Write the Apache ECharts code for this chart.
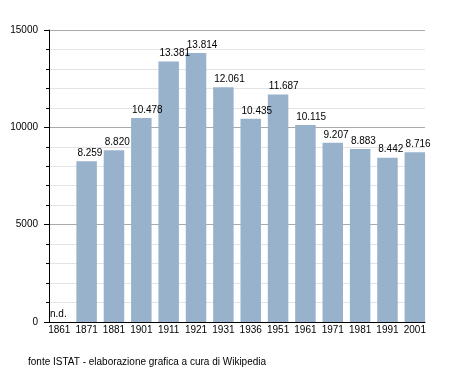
<!DOCTYPE html>
<html><head><meta charset="utf-8">
<script src="https://cdn.jsdelivr.net/npm/echarts@6/dist/echarts.min.js"></script>
<style>html,body{margin:0;padding:0;background:#fff}#c{width:453px;height:371px}</style>
</head><body><div id="c"></div>
<script>
const years = ['1861','1871','1881','1901','1911','1921','1931','1936','1951','1961','1971','1981','1991','2001'];
const population = [null,8259,8820,10478,13381,13814,12061,10435,11687,10115,9207,8883,8442,8716];
const yTicks = [0,5000,10000,15000];
const sourceNote = 'fonte ISTAT - elaborazione grafica a cura di Wikipedia';

function fmt(v){ return String(v).replace(/\B(?=(\d{3})+(?!\d))/g,'.'); }
const FONT = 'Liberation Sans';
const YMIN = yTicks[0], YMAX = yTicks[yTicks.length-1];
const chart = echarts.init(document.getElementById('c'), null, {renderer:'canvas'});
chart.setOption({
  animation:false,
  backgroundColor:'#fff',
  textStyle:{fontFamily:FONT},
  grid:[
    {left:45.6,right:24.5,top:30,bottom:49,containLabel:false},
    {left:49,right:28,top:30,bottom:49,containLabel:false}
  ],
  xAxis:[{
    gridIndex:0, type:'category', data:years,
    axisLine:{show:false},
    axisTick:{show:false},
    axisLabel:{color:'#000',fontSize:10,fontFamily:FONT,margin:3,interval:0}
  },{
    gridIndex:1, type:'category', data:years,
    axisLine:{show:true,lineStyle:{color:'#000',width:1}},
    axisTick:{show:false}, axisLabel:{show:false}, splitLine:{show:false}
  }],
  yAxis:[{
    gridIndex:0, type:'value', min:YMIN, max:YMAX,
    axisLine:{show:false}, axisTick:{show:false}, axisLabel:{show:false}, splitLine:{show:false}
  },{
    gridIndex:1, type:'value', min:YMIN, max:YMAX, interval:5000,
    axisLine:{show:true,lineStyle:{color:'#000',width:1}},
    axisTick:{show:true,length:5,lineStyle:{color:'#000'}},
    minorTick:{show:true,splitNumber:5,length:3,lineStyle:{color:'#000'}},
    splitLine:{show:true,lineStyle:{color:'#aaaaaa',width:1}},
    minorSplitLine:{show:true,lineStyle:{color:'#e3e3e3',width:1}},
    axisLabel:{color:'#000',fontSize:10,fontFamily:FONT,margin:11,formatter:v=>String(v)}
  }],
  series:[{
    type:'bar', xAxisIndex:0, yAxisIndex:0, barWidth:20.5, z:3,
    itemStyle:{color:'#98b2cc'},
    data: population.map(v => v===null ? {value:0, nd:true} : {value:v}),
    label:{
      show:true, position:[1,-3], align:'left', verticalAlign:'bottom',
      color:'#000', fontSize:10, fontFamily:FONT,
      formatter: p => p.data.nd ? 'n.d.' : fmt(p.value)
    }
  }],
  graphic:[{type:'text',left:28,top:357,style:{text:sourceNote,fill:'#000',font:'10px "Liberation Sans"'}}]
});
</script></body></html>
